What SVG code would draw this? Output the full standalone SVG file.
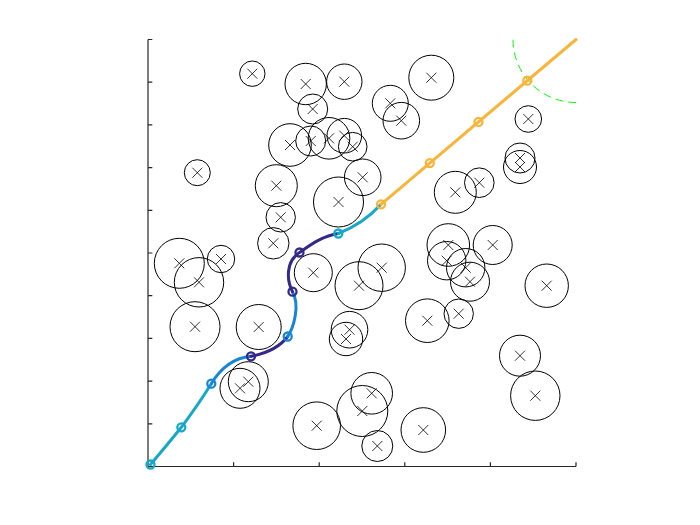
<svg xmlns="http://www.w3.org/2000/svg" xmlns:xlink="http://www.w3.org/1999/xlink" width="700" height="525" viewBox="0 0 700 525">
<style>
.ob{fill:none;stroke:#000;stroke-width:1}
.cx{fill:none;stroke:#000;stroke-width:0.8}
.ax{fill:none;stroke:#262626;stroke-width:1.2}
.seg{fill:none;stroke-width:3;stroke-linecap:round;stroke-linejoin:round}
.mk{fill:none;stroke-width:2.3}
.teal{stroke:#15a8c9}.blue{stroke:#1786d9}.purp{stroke:#33298a}.orng{stroke:#f9b43a}
</style>
<defs>
<path id="x" class="cx" d="M-5,-5L5,5M-5,5L5,-5"/>
<clipPath id="plot"><rect x="148" y="39.5" width="428" height="427"/></clipPath>
</defs>
<rect width="700" height="525" fill="#fff"/>
<g id="axes" class="ax">
<path d="M148,39.5V466.5H576"/>
<path d="M148,39.5h4.3M148,82.2h4.3M148,124.9h4.3M148,167.6h4.3M148,210.3h4.3M148,253h4.3M148,295.7h4.3M148,338.4h4.3M148,381.1h4.3M148,423.8h4.3"/>
<path d="M233.6,466.5v-4.3M319.2,466.5v-4.3M404.8,466.5v-4.3M490.4,466.5v-4.3M576,466.5v-4.3"/>
</g>
<g id="obstacles">
<circle class="ob" cx="252.3" cy="73.7" r="12.7"/><use xlink:href="#x" x="252.3" y="73.7"/>
<circle class="ob" cx="305.7" cy="84" r="20.7"/><use xlink:href="#x" x="305.7" y="84"/>
<circle class="ob" cx="344.3" cy="81.7" r="17.7"/><use xlink:href="#x" x="344.3" y="81.7"/>
<circle class="ob" cx="431.3" cy="77.7" r="22.5"/><use xlink:href="#x" x="431.3" y="77.7"/>
<circle class="ob" cx="390.3" cy="103.3" r="18"/><use xlink:href="#x" x="390.3" y="103.3"/>
<circle class="ob" cx="401.3" cy="120.7" r="18.3"/><use xlink:href="#x" x="401.3" y="120.7"/>
<circle class="ob" cx="312.7" cy="109" r="15"/><use xlink:href="#x" x="312.7" y="109"/>
<circle class="ob" cx="528.3" cy="119" r="13.3"/><use xlink:href="#x" x="528.3" y="119"/>
<circle class="ob" cx="290" cy="145" r="21.3"/><use xlink:href="#x" x="290" y="145"/>
<circle class="ob" cx="310.7" cy="141" r="15"/><use xlink:href="#x" x="310.7" y="141"/>
<circle class="ob" cx="329" cy="138.3" r="20.8"/><use xlink:href="#x" x="329" y="138.3"/>
<circle class="ob" cx="344.3" cy="135.7" r="17.3"/><use xlink:href="#x" x="344.3" y="135.7"/>
<circle class="ob" cx="352.7" cy="146.7" r="14.3"/><use xlink:href="#x" x="352.7" y="146.7"/>
<circle class="ob" cx="520" cy="158" r="15"/><use xlink:href="#x" x="520" y="158"/>
<circle class="ob" cx="520" cy="167" r="16.5"/><use xlink:href="#x" x="520" y="167"/>
<circle class="ob" cx="197.3" cy="172.7" r="13"/><use xlink:href="#x" x="197.3" y="172.7"/>
<circle class="ob" cx="276.3" cy="185.7" r="21"/><use xlink:href="#x" x="276.3" y="185.7"/>
<circle class="ob" cx="362.7" cy="177.3" r="18.3"/><use xlink:href="#x" x="362.7" y="177.3"/>
<circle class="ob" cx="455.3" cy="192.3" r="21"/><use xlink:href="#x" x="455.3" y="192.3"/>
<circle class="ob" cx="479.3" cy="182.7" r="14.8"/><use xlink:href="#x" x="479.3" y="182.7"/>
<circle class="ob" cx="338.5" cy="202" r="25"/><use xlink:href="#x" x="338.5" y="202"/>
<circle class="ob" cx="280.7" cy="217.3" r="14.7"/><use xlink:href="#x" x="280.7" y="217.3"/>
<circle class="ob" cx="273.3" cy="243.3" r="15.7"/><use xlink:href="#x" x="273.3" y="243.3"/>
<circle class="ob" cx="448.3" cy="245" r="21.3"/><use xlink:href="#x" x="448.3" y="245"/>
<circle class="ob" cx="492.7" cy="245" r="19.5"/><use xlink:href="#x" x="492.7" y="245"/>
<circle class="ob" cx="446.7" cy="260.7" r="19.2"/><use xlink:href="#x" x="446.7" y="260.7"/>
<circle class="ob" cx="465.7" cy="267.7" r="19.2"/><use xlink:href="#x" x="465.7" y="267.7"/>
<circle class="ob" cx="470" cy="281.7" r="19.5"/><use xlink:href="#x" x="470" y="281.7"/>
<circle class="ob" cx="179.3" cy="263.3" r="25"/><use xlink:href="#x" x="179.3" y="263.3"/>
<circle class="ob" cx="221" cy="259" r="13.7"/><use xlink:href="#x" x="221" y="259"/>
<circle class="ob" cx="199" cy="282.3" r="24.7"/><use xlink:href="#x" x="199" y="282.3"/>
<circle class="ob" cx="313.3" cy="272.7" r="19"/><use xlink:href="#x" x="313.3" y="272.7"/>
<circle class="ob" cx="381.7" cy="267.7" r="23.7"/><use xlink:href="#x" x="381.7" y="267.7"/>
<circle class="ob" cx="359" cy="285.7" r="24"/><use xlink:href="#x" x="359" y="285.7"/>
<circle class="ob" cx="546.7" cy="285.7" r="21.7"/><use xlink:href="#x" x="546.7" y="285.7"/>
<circle class="ob" cx="195" cy="326.7" r="25"/><use xlink:href="#x" x="195" y="326.7"/>
<circle class="ob" cx="258.7" cy="327" r="22.5"/><use xlink:href="#x" x="258.7" y="327"/>
<circle class="ob" cx="349.5" cy="329.7" r="18.3"/><use xlink:href="#x" x="349.5" y="329.7"/>
<circle class="ob" cx="346" cy="339" r="16.7"/><use xlink:href="#x" x="346" y="339"/>
<circle class="ob" cx="427.3" cy="320.7" r="21.8"/><use xlink:href="#x" x="427.3" y="320.7"/>
<circle class="ob" cx="458.7" cy="313.7" r="14.7"/><use xlink:href="#x" x="458.7" y="313.7"/>
<circle class="ob" cx="520" cy="355.7" r="20.5"/><use xlink:href="#x" x="520" y="355.7"/>
<circle class="ob" cx="240" cy="388.3" r="20"/><use xlink:href="#x" x="240" y="388.3"/>
<circle class="ob" cx="248.3" cy="381.7" r="20"/><use xlink:href="#x" x="248.3" y="381.7"/>
<circle class="ob" cx="535.3" cy="395.7" r="24.7"/><use xlink:href="#x" x="535.3" y="395.7"/>
<circle class="ob" cx="371.7" cy="393.3" r="20.8"/><use xlink:href="#x" x="371.7" y="393.3"/>
<circle class="ob" cx="362.3" cy="411" r="25.5"/><use xlink:href="#x" x="362.3" y="411"/>
<circle class="ob" cx="316.7" cy="425.7" r="23.8"/><use xlink:href="#x" x="316.7" y="425.7"/>
<circle class="ob" cx="377.3" cy="446" r="15.5"/><use xlink:href="#x" x="377.3" y="446"/>
<circle class="ob" cx="423.3" cy="430" r="22.3"/><use xlink:href="#x" x="423.3" y="430"/>
</g>
<g id="goal-region" clip-path="url(#plot)">
<path d="M513,39.5A63,63 0 0 0 576,102.5" fill="none" stroke="#00ff00" stroke-width="1" stroke-dasharray="8 5"/>
</g>
<g id="path">
<path class="seg teal" d="M150.5,464.5Q168,444 181.3,427.3Q198,405 211.3,383.7"/>
<path class="seg blue" d="M211.3,383.7C219,371 232,358 251,356.3"/>
<path class="seg purp" d="M251,356.3C263,354 279,348 287.7,336.5"/>
<path class="seg blue" d="M287.7,336.5C294,327 300,305 292.5,291.7"/>
<path class="seg purp" d="M292.5,291.7C287,281 285,262 299.5,252.5C309,246 322,236 338.3,233.5"/>
<path class="seg teal" d="M338.3,233.5C350,229 365,222 381,204.3"/>
<path class="seg orng" d="M381,204.3L576,39.5"/>
<circle class="mk teal" cx="150.5" cy="464.5" r="4"/>
<circle class="mk teal" cx="181.3" cy="427.3" r="4"/>
<circle class="mk blue" cx="211.3" cy="383.7" r="4"/>
<circle class="mk purp" cx="251" cy="356.3" r="4"/>
<circle class="mk blue" cx="287.7" cy="336.5" r="4"/>
<circle class="mk purp" cx="292.5" cy="291.7" r="4"/>
<circle class="mk purp" cx="299.5" cy="252.5" r="4"/>
<circle class="mk teal" cx="338.3" cy="233.5" r="4"/>
<circle class="mk orng" cx="381" cy="204.3" r="4"/>
<circle class="mk orng" cx="429.8" cy="163.1" r="4"/>
<circle class="mk orng" cx="478.5" cy="121.9" r="4"/>
<circle class="mk orng" cx="527.3" cy="80.7" r="4"/>
</g>
</svg>
